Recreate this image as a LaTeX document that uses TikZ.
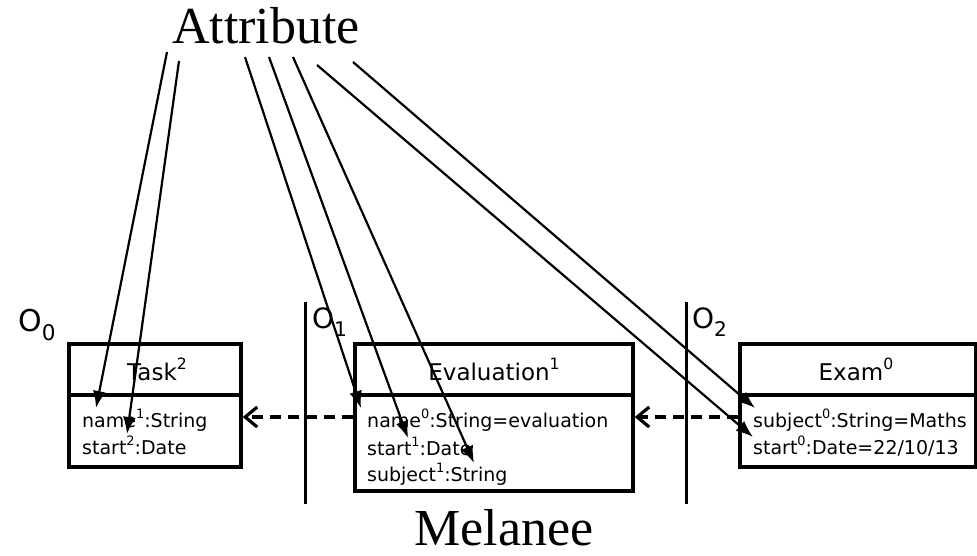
\documentclass[tikz,border=0pt]{standalone}
\usepackage{fontspec}
\setmainfont{Liberation Serif}
\newfontfamily\umlfont{DejaVu Sans}
\usetikzlibrary{arrows.meta}

\newcommand\umlsup[1]{\raisebox{0.45em}{\scalebox{0.68}{#1}}}
\newcommand\levelsub[1]{\raisebox{-0.3em}{\scalebox{0.72}{#1}}}

\begin{document}
\begin{tikzpicture}[x=1pt,y=-1pt,
  bigtext/.style={font=\fontsize{52}{52}\selectfont, inner sep=0pt, anchor=base},
  classbox/.style={draw, line width=3.4pt, inner sep=0pt},
  classtitle/.style={font=\umlfont\fontsize{23}{23}\selectfont, inner sep=0pt, anchor=base},
  attr/.style={font=\umlfont\fontsize{19}{19}\selectfont, inner sep=0pt, anchor=base west},
  level/.style={font=\umlfont\fontsize{#1}{#1}\selectfont, inner sep=0pt, anchor=base west},
  partition/.style={line width=3pt},
  divider/.style={line width=3.4pt},
  refarrow/.style={line width=2.2pt, -{Latex[length=17pt,width=13pt]}},
  dep/.style={line width=3.2pt, dash pattern=on 11pt off 7pt,
              -{Straight Barb[length=12pt,width=20pt,line width=3.2pt]}}
]
\useasboundingbox (0,0) rectangle (977,555);

% level partitions
\draw[partition] (305,302) -- (305,504);
\draw[partition] (686,302) -- (686,504);
\node[level=30] (o0) at (18,331) {O\levelsub{0}};
\node[level=28] (o1) at (312,328) {O\levelsub{1}};
\node[level=28] (o2) at (692,328) {O\levelsub{2}};

% classes
\coordinate (divY) at (0,395);
\coordinate (dashY) at (0,417);

\node[classbox, minimum width=172pt, minimum height=123pt] (task) at (155,405.5) {};
\node[classbox, minimum width=278pt, minimum height=147pt] (eval) at (494,417.5) {};
\node[classbox, minimum width=236pt, minimum height=123pt] (exam) at (858,405.5) {};

\draw[divider] (task.west |- divY) -- (task.east |- divY);
\draw[divider] (eval.west |- divY) -- (eval.east |- divY);
\draw[divider] (exam.west |- divY) -- (exam.east |- divY);

\node[classtitle] (taskname) at (157,380) {Task\umlsup{2}};
\node[classtitle] (evalname) at (494,380) {Evaluation\umlsup{1}};
\node[classtitle] (examname) at (856,380) {Exam\umlsup{0}};

\node[attr] (taskA) at (82,427) {name\umlsup{1}:String};
\node[attr] (taskB) at (82,454) {start\umlsup{2}:Date};

\node[attr] (evalA) at (367,427) {name\umlsup{0}:String=evaluation};
\node[attr] (evalB) at (367,455) {start\umlsup{1}:Date};
\node[attr] (evalC) at (367,481) {subject\umlsup{1}:String};

\node[attr] (examA) at (753,427) {subject\umlsup{0}:String=Maths};
\node[attr] (examB) at (753,454) {start\umlsup{0}:Date=22/10/13};

% dependencies between levels
\draw[dep] (eval.west |- dashY) -- (task.east |- dashY);
\draw[dep] (exam.west |- dashY) -- (eval.east |- dashY);

% labels
\node[bigtext] (attribute) at (266,43) {Attribute};
\node[bigtext] (melanee) at (504,545) {Melanee};

% attribute references
\coordinate (s1) at (167,52);
\coordinate (s2) at (179,61);
\coordinate (s3) at (245,57);
\coordinate (s4) at (269,57);
\coordinate (s5) at (293,57);
\coordinate (s6) at (317,65);
\coordinate (s7) at (353,62);

\coordinate (e1) at (96,408);
\coordinate (e2) at (127,434);
\coordinate (e3) at (361,408);
\coordinate (e4) at (408,438);
\coordinate (e5) at (474,463);
\coordinate (e6) at (753,437);
\coordinate (e7) at (755,408);

\foreach \i in {1,...,7} {
  \draw[refarrow] (s\i) -- (e\i);
}
\end{tikzpicture}
\end{document}
